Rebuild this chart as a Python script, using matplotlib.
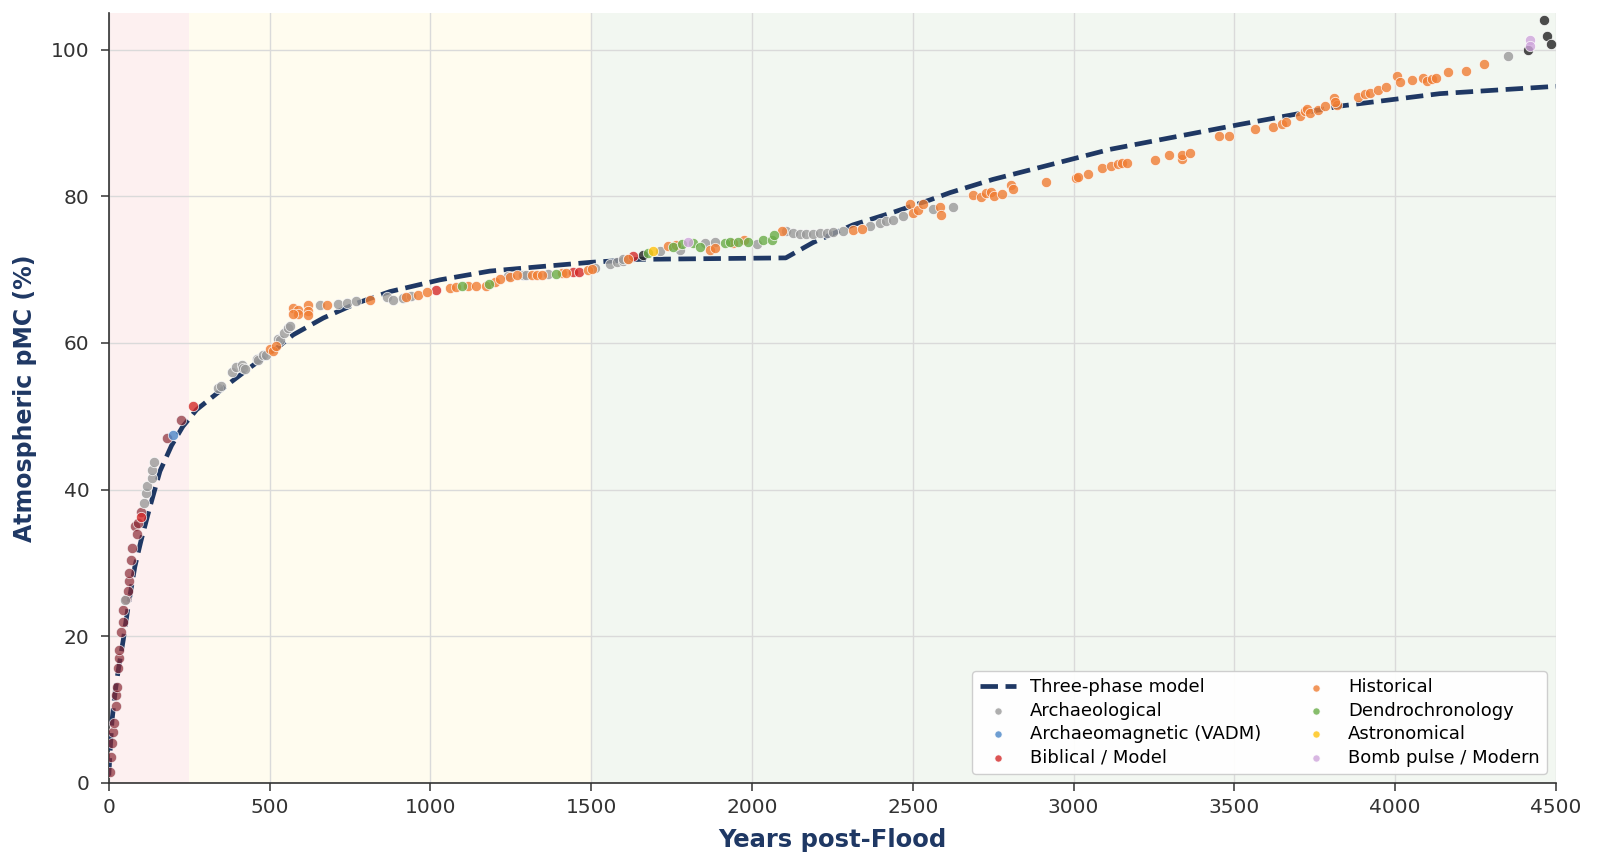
import matplotlib.pyplot as plt

# Three-phase model curve (years post-Flood, pMC)
model_x = [0, 5, 10, 20, 30, 45, 60, 81, 100, 127, 159, 195, 230, 273, 330, 381,
           450, 500, 573, 667, 770, 874, 1029, 1185, 1340, 1500, 1650, 2105,
           2190, 2314, 2438, 2553, 2616, 2749, 2927, 3113, 3517, 3828, 4139, 4500]
model_y = [1.0, 5.0, 8.5, 12.5, 15.5, 19.5, 24.0, 29.5, 33.0, 37.5, 42.5, 46.0,
           48.6, 50.9, 52.9, 54.7, 57.0, 58.5, 61.1, 63.4, 65.4, 67.0, 68.6, 69.8,
           70.4, 71.0, 71.4, 71.6, 73.7, 76.1, 77.8, 79.5, 80.5, 82.3, 84.3, 86.4,
           89.8, 92.3, 94.0, 95.0]

# data points per category: (year, pMC)
archaeological = [(50, 25.0), (110, 38.2), (117, 39.5), (120, 40.5), (133, 41.6), (133, 42.7),
                  (141, 43.7), (340, 53.8), (350, 54.1), (384, 56.0), (397, 56.7), (413, 57.0),
                  (418, 56.6), (422, 56.4), (460, 57.8), (464, 57.7), (479, 58.4), (488, 58.3),
                  (527, 60.6), (532, 60.4), (546, 61.4), (558, 62.1), (563, 62.3), (656, 65.2),
                  (713, 65.3), (741, 65.5), (770, 65.7), (864, 66.3), (884, 65.8), (915, 66.1),
                  (941, 66.4), (1242, 69.1), (1288, 69.2), (1298, 69.3), (1366, 69.4), (1511, 70.2),
                  (1558, 70.8), (1579, 71.0), (1599, 71.2), (1600, 71.4), (1615, 71.5), (1713, 72.6),
                  (1776, 72.7), (1853, 73.6), (1884, 73.8), (2014, 73.5), (2107, 75.2), (2128, 75.0),
                  (2149, 74.9), (2169, 74.8), (2190, 74.8), (2211, 75.0), (2232, 75.0), (2252, 75.1),
                  (2283, 75.2), (2367, 75.9), (2398, 76.4), (2418, 76.6), (2439, 76.8), (2470, 77.3),
                  (2563, 78.3), (2626, 78.6), (4352, 99.2)]
archaeomagnetic = [(200, 47.5)]
biblical = [(100, 36.3), (262, 51.4), (1017, 67.2), (1442, 69.7), (1463, 69.7), (1631, 71.8)]
historical = [(501, 59.2), (511, 58.9), (521, 59.6), (573, 64.8), (589, 64.5), (589, 63.9),
              (620, 65.2), (620, 64.4), (620, 63.8), (573, 63.9), (679, 65.2), (812, 65.9),
              (925, 66.3), (962, 66.6), (988, 66.9), (1060, 67.5), (1081, 67.6), (1117, 67.7),
              (1143, 67.7), (1174, 67.8), (1200, 68.3), (1216, 68.7), (1247, 69.0), (1268, 69.2),
              (1315, 69.3), (1330, 69.3), (1346, 69.3), (1408, 69.5), (1423, 69.5), (1491, 70.0),
              (1501, 70.1), (1615, 71.4), (1739, 73.2), (1765, 73.4), (1869, 72.7), (1884, 72.9),
              (1941, 73.6), (1975, 74.0), (2092, 75.2), (2315, 75.4), (2341, 75.6), (2491, 78.9),
              (2501, 77.7), (2517, 78.1), (2532, 79.0), (2584, 78.5), (2589, 77.5), (2686, 80.2),
              (2711, 79.9), (2728, 80.4), (2742, 80.6), (2753, 80.1), (2776, 80.3), (2805, 81.6),
              (2813, 81.0), (2913, 82.0), (3007, 82.5), (3014, 82.6), (3044, 83.0), (3087, 83.8),
              (3115, 84.1), (3139, 84.4), (3150, 84.5), (3165, 84.5), (3254, 84.9), (3298, 85.7),
              (3336, 85.1), (3336, 85.6), (3362, 85.9), (3452, 88.2), (3484, 88.2), (3564, 89.2),
              (3621, 89.5), (3647, 89.9), (3662, 90.2), (3704, 90.9), (3720, 91.7), (3725, 91.9),
              (3735, 91.4), (3761, 91.8), (3782, 92.3), (3811, 93.4), (3818, 92.5), (3813, 92.8),
              (3885, 93.6), (3906, 93.9), (3922, 94.1), (3947, 94.5), (3971, 94.9), (4005, 96.4),
              (4015, 95.6), (4051, 95.9), (4087, 96.1), (4098, 95.7), (4113, 96.0), (4128, 96.2),
              (4163, 96.9), (4220, 97.1), (4277, 98.1)]
dendro = [(1097, 67.7), (1183, 68.1), (1392, 69.4), (1677, 72.2), (1755, 73.1), (1781, 73.5),
          (1817, 73.6), (1838, 73.1), (1916, 73.6), (1931, 73.8), (1957, 73.8), (1988, 73.8),
          (2035, 74.0), (2061, 74.1), (2068, 74.7)]
astronomical = [(1693, 72.5)]
bomb_pulse = [(1802, 73.7), (4420, 101.3), (4420, 100.5)]

# early model-derived points and modern measurements (no legend entry)
early_pts = [(3, 1.5), (6, 3.5), (10, 5.5), (13, 7.0), (16, 8.1), (21, 10.5), (22, 12.0),
             (25, 13.1), (29, 15.6), (31, 17.0), (33, 18.1), (39, 20.6), (45, 21.9), (45, 23.6),
             (52, 25.1), (60, 26.2), (62, 27.5), (63, 28.6), (68, 30.4), (72, 32.0), (81, 35.0),
             (88, 34.0), (91, 35.5), (101, 37.0), (182, 47.0), (224, 49.5)]
dark_pts = [(1662, 72.0), (4414, 99.9), (4463, 104.0), (4473, 101.8), (4484, 100.8)]

categories = [
    ("Archaeological", archaeological, "#9a9a9a"),
    ("Archaeomagnetic (VADM)", archaeomagnetic, "#4a86c8"),
    ("Biblical / Model", biblical, "#d42a2a"),
    ("Historical", historical, "#f07d33"),
    ("Dendrochronology", dendro, "#6aad48"),
    ("Astronomical", astronomical, "#ffc20e"),
    ("Bomb pulse / Modern", bomb_pulse, "#cfa6dc"),
]

navy = "#1f3864"

fig, ax = plt.subplots(figsize=(16, 8.66), dpi=100)
fig.subplots_adjust(left=0.068, right=0.9725, bottom=0.096, top=0.985)

# phase shading
ax.axvspan(0, 250, color="#fdf0f0", zorder=0, lw=0)
ax.axvspan(250, 1500, color="#fffcef", zorder=0, lw=0)
ax.axvspan(1500, 4500, color="#f2f7f1", zorder=0, lw=0)

ax.plot(model_x, model_y, ls="--", lw=3.4, color=navy, label="Three-phase model", zorder=3)

ax.scatter([p[0] for p in early_pts], [p[1] for p in early_pts], s=55, color="#8a2a36",
           alpha=0.7, edgecolors="white", linewidths=0.6, zorder=4)
ax.scatter([p[0] for p in dark_pts], [p[1] for p in dark_pts], s=55, color="#2e2e2e",
           alpha=0.85, edgecolors="white", linewidths=0.6, zorder=4)

for name, pts, col in categories:
    ax.scatter([p[0] for p in pts], [p[1] for p in pts], s=55, color=col, alpha=0.8,
               edgecolors="white", linewidths=0.6, label=name, zorder=5)

ax.set_xlim(0, 4500)
ax.set_ylim(0, 105)
ax.set_xticks(range(0, 4501, 500))
ax.set_yticks(range(0, 101, 20))
ax.set_axisbelow(True)
ax.grid(True, color="#dadada", lw=1)
ax.tick_params(labelsize=14.5, colors="#333333", length=6, width=1.1, pad=5)
ax.tick_params(axis="y", pad=8)
for s in ["top", "right"]:
    ax.spines[s].set_visible(False)
for s in ["left", "bottom"]:
    ax.spines[s].set_color("#333333")
    ax.spines[s].set_linewidth(1.2)

ax.set_xlabel("Years post-Flood", fontsize=17.5, fontweight="bold", color=navy, labelpad=8)
ax.set_ylabel("Atmospheric pMC (%)", fontsize=17, fontweight="bold", color=navy, labelpad=10)

ax.legend(loc="lower right", ncol=2, fontsize=13, markerscale=0.7, framealpha=0.95,
          edgecolor="#cccccc", fancybox=True, labelspacing=0.3)

plt.savefig("out.png", dpi=100)
